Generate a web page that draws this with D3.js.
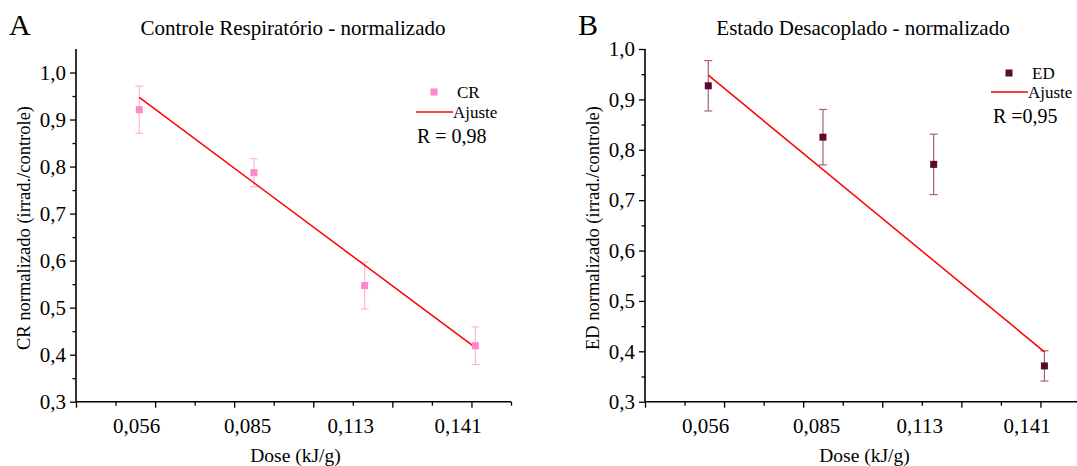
<!DOCTYPE html>
<html><head><meta charset="utf-8">
<script src="https://cdn.jsdelivr.net/npm/d3@7"></script>
<style>
body{margin:0;background:#fff;}
svg text{font-family:"Liberation Serif","Times New Roman",serif;fill:#000;}
</style></head>
<body><svg id="c" width="1077" height="466"></svg>
<script>
// ---- data ----
const doses = [0.056, 0.085, 0.113, 0.141];
const doseLabels = ["0,056", "0,085", "0,113", "0,141"];
const doseLabelPos = [0.0553, 0.0834, 0.1095, 0.1366];
const crValues = [0.921, 0.787, 0.547, 0.419];
const crErrors = [0.05, 0.03, 0.05, 0.04];
const crFit = [0.947, 0.415];
const edValues = [0.927, 0.825, 0.771, 0.371];
const edErrors = [0.05, 0.055, 0.06, 0.03];
const edFit = [0.948, 0.399];
const yTicks = [0.3, 0.4, 0.5, 0.6, 0.7, 0.8, 0.9, 1.0];
const yMinorTicks = [0.35, 0.45, 0.55, 0.65, 0.75, 0.85, 0.95];
const xMajorTicks = [0.04, 0.06, 0.08, 0.10, 0.12, 0.14];
const xMinorTicks = [0.05, 0.07, 0.09, 0.11, 0.13, 0.15];

const svg = d3.select("#c");
const fmt = d => d3.format(".1f")(d).replace(".", ",");

function panel(opt){
  const g = svg.append("g");
  const x = d3.scaleLinear().domain([0.04, 0.15]).range([opt.x0, opt.x0 + 435]);
  const y = d3.scaleLinear().domain([0.3, opt.yTop]).range([401.7, 49]);

  // letter + title
  g.append("text").attr("x", opt.x0 - 67).attr("y", 35).attr("font-size", 30).text(opt.letter);
  g.append("text").attr("x", opt.titleX).attr("y", 35).attr("text-anchor", "middle")
    .attr("font-size", 21).text(opt.title);

  // axes
  const ax = g.append("g").attr("transform", `translate(0,${y(0.3)})`)
    .call(d3.axisBottom(x).tickValues(xMajorTicks).tickSize(6).tickFormat(""));
  g.append("g").attr("transform", `translate(0,${y(0.3)})`)
    .call(d3.axisBottom(x).tickValues(xMinorTicks.filter(v => x(v) < 1077)).tickSize(4).tickFormat(""))
    .select(".domain").remove();
  const ay = g.append("g").attr("transform", `translate(${opt.x0},0)`)
    .call(d3.axisLeft(y).tickValues(yTicks).tickSize(6).tickPadding(4).tickFormat(fmt));
  g.append("g").attr("transform", `translate(${opt.x0},0)`)
    .call(d3.axisLeft(y).tickValues(yMinorTicks).tickSize(3.5).tickFormat(""))
    .select(".domain").remove();
  g.selectAll(".domain").attr("stroke-width", 1.6);
  g.selectAll(".tick line").attr("stroke-width", 1.3);
  ay.selectAll(".tick text").attr("font-size", 21);
  // axis lines spanning the full extent
  ax.select(".domain").attr("d", `M${x(0.04)},0H${x(0.15)}`);
  ay.select(".domain").attr("d", `M0,${y(0.3)}V${y(opt.yTop)}`);

  // x labels
  g.selectAll(".xl").data(doseLabels).join("text").attr("class", "xl")
    .attr("x", (d, i) => x(doseLabelPos[i])).attr("y", 433).attr("text-anchor", "middle")
    .attr("font-size", 21).text(d => d);
  g.append("text").attr("x", x(0.0955)).attr("y", 462).attr("text-anchor", "middle")
    .attr("font-size", 19.5).text("Dose (kJ/g)");
  g.append("text").attr("transform", `translate(${opt.x0 - 46},${228}) rotate(-90)`)
    .attr("text-anchor", "middle").attr("font-size", 18.5).text(opt.ylabel);

  // error bars
  const eb = g.append("g").attr("stroke", opt.errColor).attr("stroke-width", 1.2).attr("fill", "none");
  doses.forEach((d, i) => {
    const v = opt.values[i], e = opt.errors[i], cx = x(d);
    eb.append("line").attr("x1", cx).attr("x2", cx).attr("y1", y(v + e)).attr("y2", y(v - e));
    eb.append("line").attr("x1", cx - 4).attr("x2", cx + 4).attr("y1", y(v + e)).attr("y2", y(v + e));
    eb.append("line").attr("x1", cx - 4).attr("x2", cx + 4).attr("y1", y(v - e)).attr("y2", y(v - e));
  });
  // fit
  g.append("line").attr("x1", x(doses[0])).attr("x2", x(doses[3]))
    .attr("y1", y(opt.fit[0])).attr("y2", y(opt.fit[1]))
    .attr("stroke", "#ff0000").attr("stroke-width", 1.5);
  // markers
  g.selectAll(".pt").data(doses).join("rect").attr("class", "pt")
    .attr("x", d => x(d) - 3.5).attr("y", (d, i) => y(opt.values[i]) - 3.5)
    .attr("width", 7).attr("height", 7).attr("fill", opt.color);

  // legend
  const L = opt.legend;
  g.append("rect").attr("x", L.mx - 3.5).attr("y", L.my - 3.5).attr("width", 7).attr("height", 7).attr("fill", opt.color);
  g.append("text").attr("x", L.tx).attr("y", L.my + 5.5).attr("font-size", 17).text(opt.series);
  g.append("line").attr("x1", L.lx0).attr("x2", L.lx1).attr("y1", L.ly).attr("y2", L.ly)
    .attr("stroke", "#ff0000").attr("stroke-width", 1.3);
  g.append("text").attr("x", L.lx1).attr("y", L.ly + 5.5).attr("font-size", 17).text("Ajuste");
  g.append("text").attr("x", L.rx).attr("y", L.ry).attr("font-size", 20).text(opt.rText);
}

panel({x0: 76, yTop: 1.05, letter: "A", title: "Controle Respiratório - normalizado", titleX: 293,
  ylabel: "CR normalizado (irrad./controle)", values: crValues, errors: crErrors, fit: crFit,
  color: "#ff88c8", errColor: "#ffb6da", series: "CR", rText: "R = 0,98",
  legend: {mx: 434, my: 92, tx: 457, lx0: 416, lx1: 453, ly: 112, rx: 417, ry: 143}});
panel({x0: 645, yTop: 1.0, letter: "B", title: "Estado Desacoplado - normalizado", titleX: 863,
  ylabel: "ED normalizado (irrad./controle)", values: edValues, errors: edErrors, fit: edFit,
  color: "#5c0a30", errColor: "#a8607f", series: "ED", rText: "R =0,95",
  legend: {mx: 1009, my: 73, tx: 1032, lx0: 991, lx1: 1028, ly: 92, rx: 993, ry: 123}});
</script></body></html>
